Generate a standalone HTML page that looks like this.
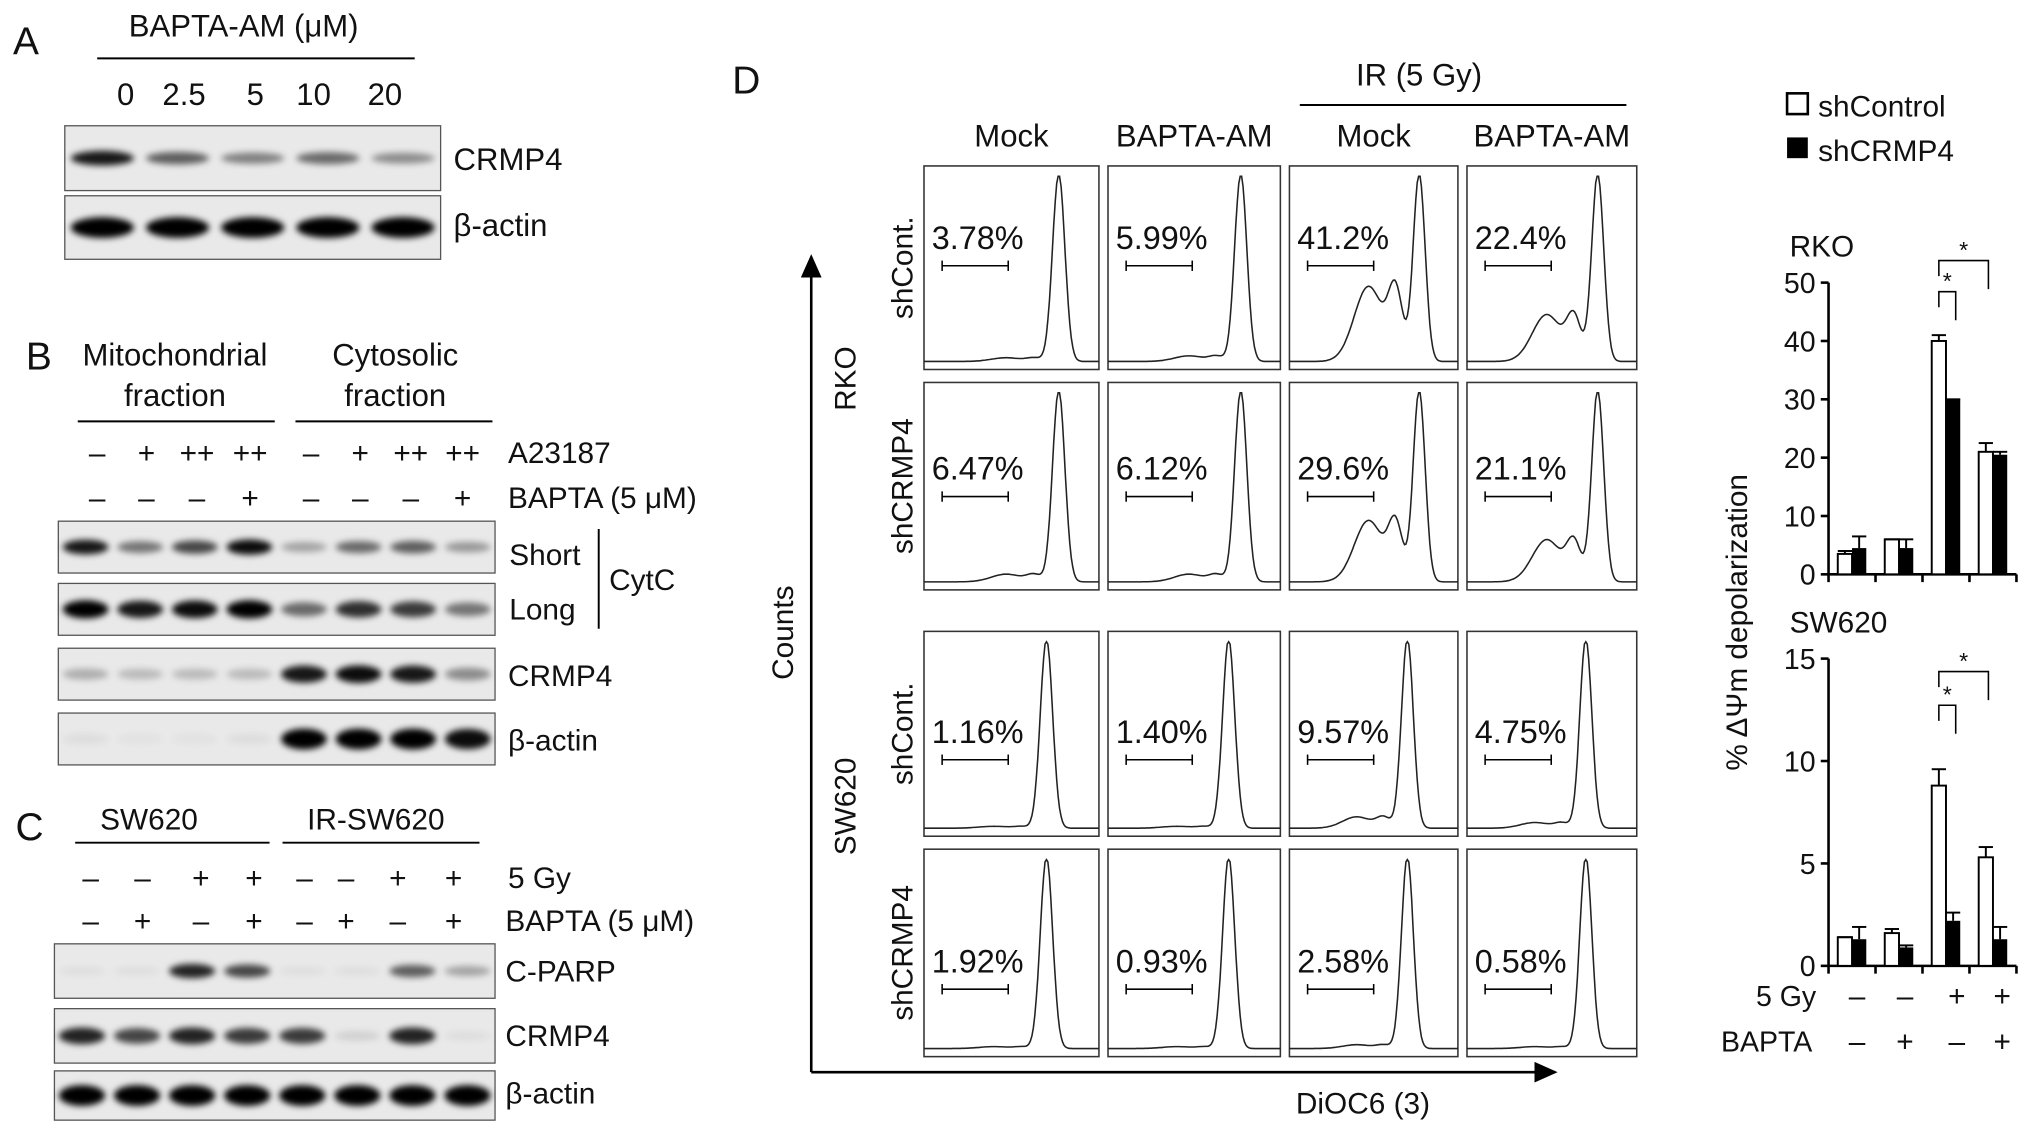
<!DOCTYPE html>
<html><head><meta charset="utf-8"><style>
html,body{margin:0;padding:0;background:#fff;}
svg{display:block;font-family:"Liberation Sans",sans-serif;}
text{fill:#111;}
</style></head><body>
<svg id="fig" width="2032" height="1137" viewBox="0 0 1568 877" preserveAspectRatio="none" xmlns="http://www.w3.org/2000/svg">
<defs>
<filter id="bl" x="-20%" y="-50%" width="140%" height="200%"><feGaussianBlur stdDeviation="2.5"/></filter>
<marker id="ah2" markerWidth="18" markerHeight="16" refX="16" refY="8" orient="auto" markerUnits="userSpaceOnUse"><path d="M0,0 L18,8 L0,16 z" fill="#000"/></marker>
</defs>
<g id="root" font-size="23"></g>
</svg>
<script>
// ---- data ----
const bandA_CRMP4=[0.9,0.6,0.45,0.55,0.4];
const bandA_actin=[1,1,1,1,1];
const bandB_short=[0.9,0.5,0.7,0.95,0.3,0.55,0.6,0.35];
const bandB_long=[1,0.9,0.95,1,0.55,0.8,0.75,0.5];
const bandB_crmp=[0.25,0.2,0.2,0.2,0.9,0.95,0.9,0.4];
const bandB_actin=[0.05,0.03,0.03,0.05,1,1,1,0.95];
const bandC_parp=[0.05,0.05,0.85,0.7,0.05,0.05,0.6,0.3];
const bandC_crmp=[0.85,0.7,0.85,0.75,0.75,0.1,0.85,0.05];
const bandC_actin=[1,1,1,1,1,1,1,1];
const histPct=[["3.78%","5.99%","41.2%","22.4%"],["6.47%","6.12%","29.6%","21.1%"],["1.16%","1.40%","9.57%","4.75%"],["1.92%","0.93%","2.58%","0.58%"]];
const histShoulder=[[0.02,0.03,0.4,0.25],[0.04,0.04,0.32,0.22],[0.01,0.01,0.06,0.03],[0.01,0.01,0.02,0.01]];
const barGroups=["1","2","3","4"];
const rkoOpen=[3.5,6,40,21];
const rkoFilled=[4.5,4.5,30,20.5];
const rkoOpenErr=[0.5,0,1,1.5];
const rkoFilledErr=[2,1.5,0,0.5];
const swOpen=[1.4,1.6,8.8,5.3];
const swFilled=[1.3,0.9,2.2,1.3];
const swOpenErr=[0,0.2,0.8,0.5];
const swFilledErr=[0.6,0.1,0.4,0.6];
const rkoTicks=[0,10,20,30,40,50];
const swTicks=[0,5,10,15];

const NS="http://www.w3.org/2000/svg";
const root=document.getElementById('root');
function el(tag,attrs,parent,txt){const e=document.createElementNS(NS,tag);for(const k in attrs)e.setAttribute(k,attrs[k]);if(txt!==undefined)e.textContent=txt;(parent||root).appendChild(e);return e;}
function T(x,y,s,name,opts){const o=Object.assign({x:x,y:y},opts||{});const t=el('text',o,null,s);


return t;}
function L(x1,y1,x2,y2,name,w){const l=el('line',{x1:x1,y1:y1,x2:x2,y2:y2,stroke:'#000','stroke-width':w||1.5});


return l;}
function blot(x,y,w,h,vals,name,bandH){
  const g=el('g',{});
  
  
  el('rect',{x:x,y:y,width:w,height:h,fill:'#e9e9e9',stroke:'#555','stroke-width':1},g);
  const n=vals.length,lw=w/n;
  vals.forEach((v,i)=>{const b=el('ellipse',{cx:x+lw*(i+0.5),cy:y+h/2,rx:lw*0.42,ry:(bandH||6)*(0.5+0.5*v),fill:'#000','fill-opacity':Math.min(1,v),filter:'url(#bl)'},g);
    
    });
}
function signs(xs,arr,y,name){arr.forEach((s,i)=>T(xs[i],y,s,name,{'text-anchor':'middle'}));}

// Panel A
T(10,42,'A','panel-a-label',{'font-size':30});
T(188,28,'BAPTA-AM (μM)','bapta-am-header',{'text-anchor':'middle','font-size':24});
L(75,45,320,45,'bapta-am-underline');
['0','2.5','5','10','20'].forEach((s,i)=>T([97,142,197,242,297][i],81,s,'dose-label',{'text-anchor':'middle','font-size':24}));
blot(50,97,290,50,bandA_CRMP4,'blot-a-crmp4',6);
blot(50,151,290,49,bandA_actin,'blot-a-actin',8);
T(350,131,'CRMP4','label-crmp4-a',{'font-size':24});T(350,182,'β-actin','label-actin-a',{'font-size':24});

// Panel B
T(20,285,'B','panel-b-label',{'font-size':30});
T(135,282,'Mitochondrial','mito-header',{'text-anchor':'middle','font-size':24});T(135,313,'fraction','mito-header-2',{'text-anchor':'middle','font-size':24});
T(305,282,'Cytosolic','cyto-header',{'text-anchor':'middle','font-size':24});T(305,313,'fraction','cyto-header-2',{'text-anchor':'middle','font-size':24});
L(60,325,212,325,'mito-underline');L(228,325,380,325,'cyto-underline');
const bx=[75,113,152,193,240,278,317,357];
signs(bx,['–','+','++','++','–','+','++','++'],357,'a23187-sign');T(392,357,'A23187','a23187-label');
signs(bx,['–','–','–','+','–','–','–','+'],392,'bapta-sign');T(392,392,'BAPTA (5 μM)','bapta-label-b');
blot(45,402,337,40,bandB_short,'blot-b-short',6);
blot(45,450,337,40,bandB_long,'blot-b-long',7);
blot(45,500,337,40,bandB_crmp,'blot-b-crmp4',7);
blot(45,550,337,40,bandB_actin,'blot-b-actin',8);
T(393,436,'Short','label-short');T(393,478,'Long','label-long');L(462,408,462,485,'cytc-bracket');T(470,455,'CytC','label-cytc');
T(392,529,'CRMP4','label-crmp4-b');T(392,579,'β-actin','label-actin-b');

// Panel C
T(12,648,'C','panel-c-label',{'font-size':30});
T(115,640,'SW620','sw620-header',{'text-anchor':'middle'});T(290,640,'IR-SW620','ir-sw620-header',{'text-anchor':'middle'});
L(58,650,208,650,'sw620-underline');L(218,650,370,650,'ir-underline');
const cx=[70,110,155,196,235,267,307,350];
signs(cx,['–','–','+','+','–','–','+','+'],685,'gy-sign');T(392,685,'5 Gy','gy-label-c');
signs(cx,['–','+','–','+','–','+','–','+'],718,'bapta-sign-c');T(390,718,'BAPTA (5 μM)','bapta-label-c');
blot(42,728,340,42,bandC_parp,'blot-c-parp',6);
blot(42,778,340,42,bandC_crmp,'blot-c-crmp4',7);
blot(42,826,340,38,bandC_actin,'blot-c-actin',8);
T(390,757,'C-PARP','label-cparp');T(390,807,'CRMP4','label-crmp4-c');T(390,851,'β-actin','label-actin-c');

// Panel D
T(565,72,'D','panel-d-label',{'font-size':30});
T(1095,66,'IR (5 Gy)','ir-header',{'text-anchor':'middle','font-size':24});L(1003,81,1255,81,'ir-underline-d');
const colX=[713,855,995,1132],colW=[135,133,130,131];
const rowY=[128,295,487,655],rowH=[157,160,158,160];
const pctOff=[64,75,86,95];
['Mock','BAPTA-AM','Mock','BAPTA-AM'].forEach((s,i)=>T(colX[i]+colW[i]/2,113,s,'column-header',{'text-anchor':'middle','font-size':24}));
['shCont.','shCRMP4','shCont.','shCRMP4'].forEach((s,i)=>{const cy=rowY[i]+rowH[i]/2;T(0,0,s,'row-label',{'text-anchor':'middle',transform:`translate(704,${cy}) rotate(-90)`});});
T(0,0,'RKO','cell-rko',{'text-anchor':'middle',transform:'translate(660,292) rotate(-90)'});
T(0,0,'SW620','cell-sw620',{'text-anchor':'middle',transform:'translate(660,622) rotate(-90)'});
T(0,0,'Counts','counts-label',{'text-anchor':'middle',transform:'translate(612,488) rotate(-90)'});
const ya=L(626,827,626,198,'y-axis-arrow',2);ya.setAttribute('marker-end','url(#ah2)');
const xa=L(626,827,1200,827,'x-axis-arrow',2);xa.setAttribute('marker-end','url(#ah2)');
T(1000,859,'DiOC6 (3)','x-axis-title');
for(let r=0;r<4;r++)for(let c=0;c<4;c++){
  const x=colX[c],y=rowY[r],w=colW[c];const H=rowH[r];
  const g=el('g',{});
  
  
  el('rect',{x:x,y:y,width:w,height:H,fill:'#fff',stroke:'#333','stroke-width':1.2},g);
  const pk=0.77-(r>=2?0.07:0),sh=histShoulder[r][c];
  let d='';
  for(let k=0;k<=120;k++){const u=k/120;let v=Math.exp(-Math.pow((u-pk)/0.05,2))+sh*Math.exp(-Math.pow((u-(pk-0.3))/0.12,2))+sh*0.9*Math.exp(-Math.pow((u-(pk-0.14))/0.06,2))+0.015;
    v=Math.min(v,1);d+=(k?'L':'M')+(x+u*w).toFixed(1)+','+(y+H-4-v*(H-12)).toFixed(1);}
  const p=el('path',{d:d,fill:'none',stroke:'#222','stroke-width':1.2},g);
  
  
  const ty=y+pctOff[r];
  T(x+6,ty,histPct[r][c],'gate-percent',{'font-size':25});
  const gy=ty+13;
  L(x+14,gy,x+65,gy,'gate-bar',1.2);L(x+14,gy-4,x+14,gy+4,'gate-tick',1.2);L(x+65,gy-4,x+65,gy+4,'gate-tick',1.2);
}

// Bar charts
const lg1=el('rect',{x:1379,y:72,width:16,height:16,fill:'#fff',stroke:'#000','stroke-width':2});

T(1403,90,'shControl','legend-shcontrol',{'font-size':23});
const lg2=el('rect',{x:1379,y:106,width:16,height:16,fill:'#000'});

T(1403,124,'shCRMP4','legend-shcrmp4',{'font-size':23});
T(0,0,'% ΔΨm depolarization','y-axis-title',{'text-anchor':'middle','font-size':23,transform:'translate(1348,480) rotate(-90)'});
const ax0=1411,ax1=1556,gw=(ax1-ax0)/4,bw=11;
function chart(title,y0,y1,max,ticks,open,filled,oe,fe,name,sig){
  T(1381,y1-20,title,name+'-title',{'font-size':23});
  const ys=v=>y0-(v/max)*(y0-y1);
  L(ax0,y0,ax0,y1,name+'-y-axis',2);L(ax0,y0,ax1,y0,name+'-x-axis',2);
  ticks.forEach(t=>{L(ax0-6,ys(t),ax0,ys(t),name+'-y-tick',2);T(ax0-10,ys(t)+8,String(t),name+'-y-tick-label',{'text-anchor':'end','font-size':22});});
  for(let i=0;i<=4;i++)L(ax0+gw*i,y0,ax0+gw*i,y0+6,name+'-x-tick',2);
  barGroups.forEach((gname,i)=>{
    const bx0=ax0+gw*i+gw/2-bw;
    const r1=el('rect',{x:bx0,y:ys(open[i]),width:bw,height:y0-ys(open[i]),fill:'#fff',stroke:'#000','stroke-width':1.5});
    
    const r2=el('rect',{x:bx0+bw,y:ys(filled[i]),width:bw,height:y0-ys(filled[i]),fill:'#000'});
    
    const e1=ys(open[i]+oe[i]);L(bx0+bw/2,ys(open[i]),bx0+bw/2,e1,name+'-error',1.5);L(bx0,e1,bx0+bw,e1,name+'-error-cap',1.5);
    const e2=ys(filled[i]+fe[i]);L(bx0+bw*1.5,ys(filled[i]),bx0+bw*1.5,e2,name+'-error',1.5);L(bx0+bw,e2,bx0+bw*2,e2,name+'-error-cap',1.5);
  });
  const b3=ax0+gw*2+gw/2-bw/2, b3f=b3+bw, b4=ax0+gw*3+gw/2-bw/2;
  const yA=sig[0],yB=sig[1];
  const p1=el('path',{d:`M${b3},${yA+12}V${yA}H${b3f+2}V${yA+22}`,fill:'none',stroke:'#000','stroke-width':1.2});
  
  const p2=el('path',{d:`M${b3},${yB+12}V${yB}H${b4+2}V${yB+22}`,fill:'none',stroke:'#000','stroke-width':1.2});
  
  T((b3+b3f)/2+1,yA-2,'*','sig-star',{'text-anchor':'middle','font-size':18});
  T((b3+b4)/2+1,yB-2,'*','sig-star',{'text-anchor':'middle','font-size':18});
}
chart('RKO',443,218,50,rkoTicks,rkoOpen,rkoFilled,rkoOpenErr,rkoFilledErr,'rko',[225,201]);
chart('SW620',745,508,15,swTicks,swOpen,swFilled,swOpenErr,swFilledErr,'sw620',[544,518]);
T(1355,776,'5 Gy','gy-label-d',{'font-size':22});
T(1328,811,'BAPTA','bapta-label-d',{'font-size':22});
const sx=[1433,1470,1510,1545];
signs(sx,['–','–','+','+'],776,'gy-sign-d');
signs(sx,['–','+','–','+'],811,'bapta-sign-d');
</script>
</body></html>
